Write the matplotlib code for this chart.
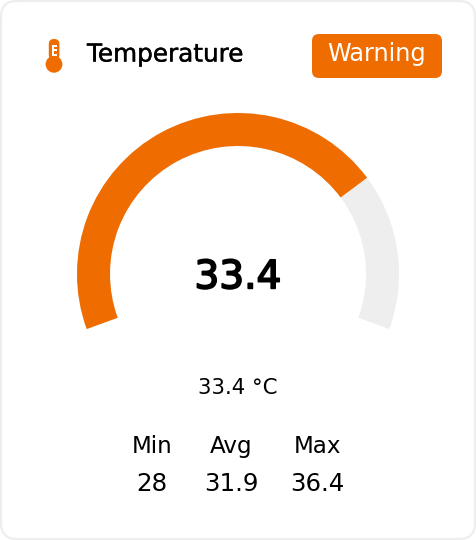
import matplotlib
matplotlib.use('Agg')
import matplotlib.pyplot as plt
import matplotlib.patheffects as pe
from matplotlib.patches import Wedge, FancyBboxPatch, Circle, Rectangle

title = 'Temperature'
status = 'Warning'
value = 33.4
unit_label = '33.4 °C'
scale_min = 0
scale_max = 45
stat_names = ['Min', 'Avg', 'Max']
stat_values = ['28', '31.9', '36.4']

orange = '#EF6C00'
grey = '#EEEEEE'

W, H = 476, 540
px = 0.72  # px to pt at dpi 100

fig = plt.figure(figsize=(W / 100, H / 100), dpi=100)
ax = fig.add_axes([0, 0, 1, 1])
ax.set_xlim(0, W)
ax.set_ylim(0, H)
ax.axis('off')


def Y(y):
    return H - y


# card
ax.add_patch(FancyBboxPatch((1, 1), W - 2, H - 2, boxstyle='round,pad=0,rounding_size=16',
                            fc='white', ec=grey, lw=1.6))

# icon
ax.add_patch(FancyBboxPatch((48.8, Y(60)), 10.6, 21, boxstyle='round,pad=0,rounding_size=5',
                            fc=orange, ec='none'))
ax.add_patch(Circle((54, Y(64.3)), 8.4, fc=orange, ec='none'))
ax.add_patch(Rectangle((52, Y(55.5)), 1.6, 10.5, fc='white', ec='none'))
for ty in [45.8, 50.2, 54.7]:
    ax.add_patch(Rectangle((52, Y(ty) - 0.8), 4.6, 1.6, fc='white', ec='none'))

t = ax.text(87, Y(61.5), title, fontsize=24.7 * px, color='black', va='baseline', ha='left')
t.set_path_effects([pe.withStroke(linewidth=0.3, foreground='black')])

# badge
ax.add_patch(FancyBboxPatch((312, Y(78)), 130, 44, boxstyle='round,pad=0,rounding_size=7',
                            fc=orange, ec='none'))
ax.text(377, Y(61.5), status, fontsize=24 * px, color='white', va='baseline', ha='center')

# gauge
cx, cy = 238, Y(274)
start_deg, end_deg = 200, -20
frac = (value - scale_min) / (scale_max - scale_min)
val_deg = start_deg + (end_deg - start_deg) * frac
ax.add_patch(Wedge((cx, cy), 161, end_deg, start_deg, width=33, fc=grey, ec='none'))
ax.add_patch(Wedge((cx, cy), 161, val_deg, start_deg, width=33, fc=orange, ec='none'))

big = ax.text(cx, Y(288.3), f'{value}', fontsize=39 * px, color='black', ha='center', va='baseline')
big.set_path_effects([pe.withStroke(linewidth=1.3, foreground='black')])
ax.text(cx, Y(394), unit_label, fontsize=21.3 * px, color='black', ha='center', va='baseline')

# stats
stat_x = [152, 231, 317.5]
for sx, n, v in zip(stat_x, stat_names, stat_values):
    ax.text(sx, Y(453.3), n, fontsize=23 * px, color='black', ha='center', va='baseline')
    ax.text(sx, Y(491.3), v, fontsize=24.5 * px, color='black', ha='center', va='baseline')

fig.savefig('out.png', dpi=100)
